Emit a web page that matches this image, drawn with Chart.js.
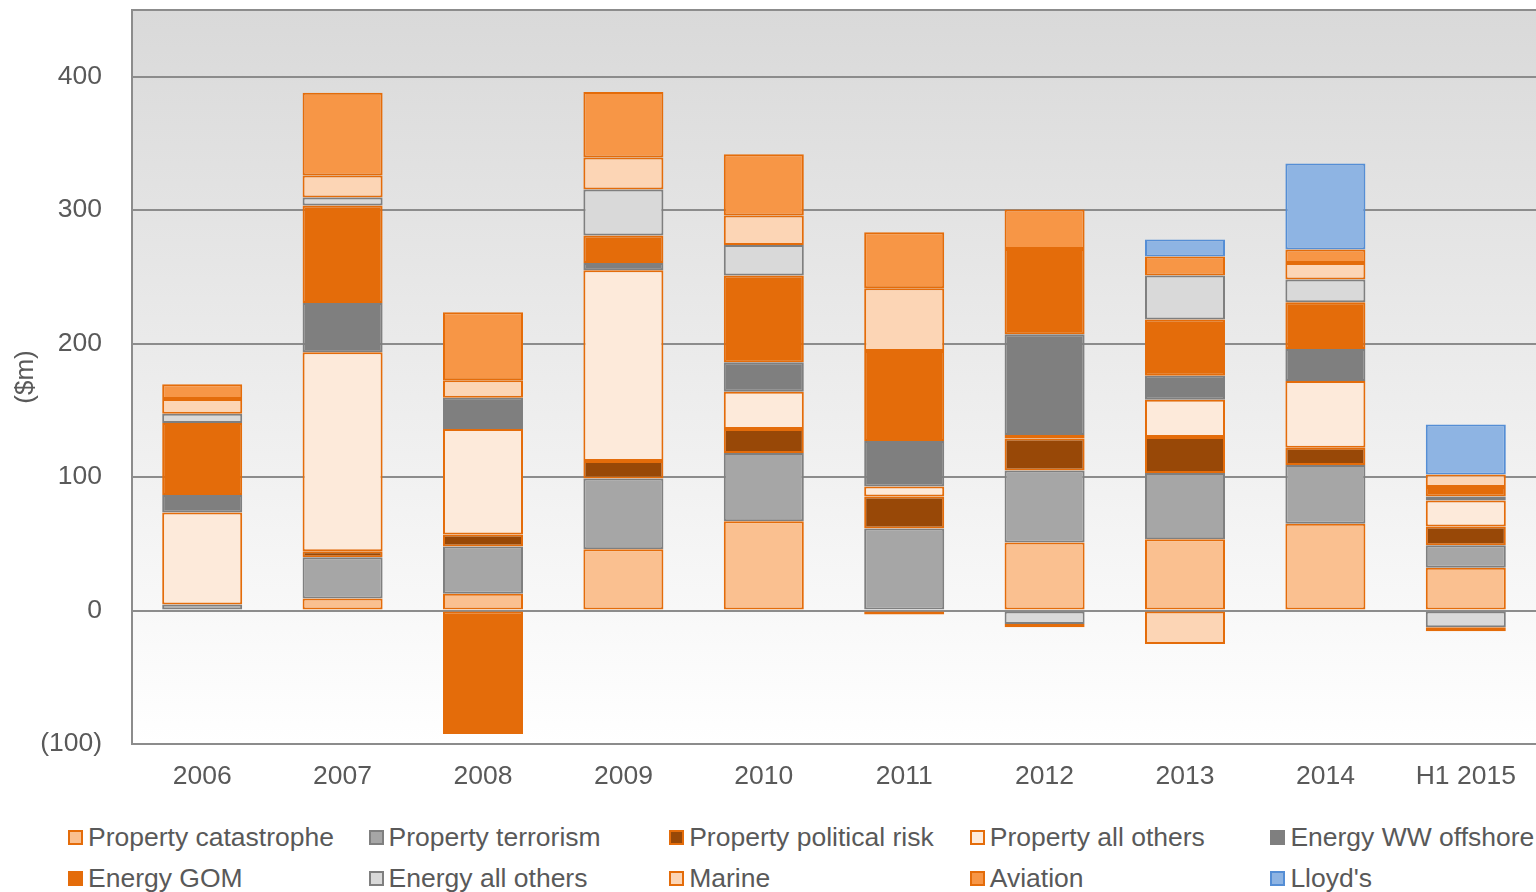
<!DOCTYPE html>
<html>
<head>
<meta charset="utf-8">
<script src="https://cdn.jsdelivr.net/npm/chart.js@4/dist/chart.umd.min.js"></script>
<style>
  html, body { margin: 0; padding: 0; background: #fff; overflow: hidden; }
  #wrap { position: relative; width: 1536px; height: 892px; }
  #chart-box { position: absolute; left: 0; top: 0; width: 1536px; height: 800px; }
  #legend { position: absolute; left: 68px; top: 823px; width: 1500px;
    display: grid; grid-template-columns: repeat(5, 300.6px); row-gap: 13px;
    font-family: "Liberation Sans", Arial, sans-serif; font-size: 26.5px; color: #595959; }
  .item { display: flex; align-items: center; height: 28px; white-space: nowrap; }
  .box { width: 11px; height: 11px; border: 2px solid; margin-right: 5px; flex: none; }
</style>
</head>
<body>
<div id="wrap">
  <div id="chart-box"><canvas id="chart"></canvas></div>
  <div id="legend"></div>
</div>
<script>
const years = ['2006', '2007', '2008', '2009', '2010', '2011', '2012', '2013', '2014', 'H1 2015'];

// $m by year (null = no segment)
const propertyCat = [null, 9, 12.5, 46, 67, -3, 51, 53.5, 65, 32];
const propertyTerrorism = [4.5, 31, 35.5, 53, 51, 61.5, 54, 49.5, 44, 17];
const propertyPolitical = [null, 4.5, 9, 13, 18, 24, 24, 27, 13, 14];
const propertyOthers = [69, 149, 79, 143, 28, 7.5, 2.5, 28, 50, 19.5];
const energyWW = [13, 37, 23.5, 5.5, 22, 34, 75.5, 18, 24, 3];
const energyGOM = [54, 73, -92.5, 20.5, 65, 67.5, 64, 42, 35, 7];
const energyOthers = [7, 6, null, 34.5, 23, null, -10, 33, 17, -12.5];
const marine = [11, 16.5, 13, 24, 22, 47, -2.5, -25, 12.5, 9.5];
const aviation = [11, 62, 51, 49, 46, 42, 29.5, 14.3, 10, -3];
const lloyds = [null, null, null, null, null, null, null, 12.8, 64.5, 37.5];

const yTicks = [-100, 0, 100, 200, 300, 400, 450];

const series = [
  { label: 'Property catastrophe', data: propertyCat, fill: '#FAC090', line: '#E46C0A' },
  { label: 'Property terrorism', data: propertyTerrorism, fill: '#A6A6A6', line: '#7F7F7F' },
  { label: 'Property political risk', data: propertyPolitical, fill: '#984807', line: '#E46C0A' },
  { label: 'Property all others', data: propertyOthers, fill: '#FDEADA', line: '#E46C0A' },
  { label: 'Energy WW offshore', data: energyWW, fill: '#7F7F7F', line: '#7F7F7F' },
  { label: 'Energy GOM', data: energyGOM, fill: '#E46C0A', line: '#E46C0A' },
  { label: 'Energy all others', data: energyOthers, fill: '#D9D9D9', line: '#7F7F7F' },
  { label: 'Marine', data: marine, fill: '#FCD5B5', line: '#E46C0A' },
  { label: 'Aviation', data: aviation, fill: '#F79646', line: '#E46C0A' },
  { label: "Lloyd's", data: lloyds, fill: '#8EB4E3', line: '#558ED5' },
];

const textColor = '#595959';
const gridColor = '#8C8C8C';

// grey-to-white fill behind the plot
const plotBackground = {
  id: 'plotBackground',
  beforeDraw(chart) {
    const { ctx, chartArea } = chart;
    const g = ctx.createLinearGradient(0, chartArea.top, 0, chartArea.bottom);
    g.addColorStop(0, '#D9D9D9');
    g.addColorStop(1, '#FFFFFF');
    ctx.save();
    ctx.fillStyle = g;
    ctx.fillRect(chartArea.left, chartArea.top, chartArea.right - chartArea.left, chartArea.bottom - chartArea.top);
    ctx.restore();
  }
};

new Chart(document.getElementById('chart'), {
  type: 'bar',
  data: {
    labels: years,
    datasets: series.map(s => ({
      label: s.label,
      data: s.data,
      backgroundColor: s.fill,
      borderColor: s.line,
      borderWidth: 2,
      borderSkipped: false,
      categoryPercentage: 1,
      barPercentage: 0.57,
    }))
  },
  options: {
    responsive: true,
    maintainAspectRatio: false,
    animation: false,
    layout: { padding: { top: 10, right: 0 } },
    plugins: { legend: { display: false }, tooltip: { enabled: false } },
    scales: {
      x: {
        stacked: true,
        grid: { display: false },
        border: { display: true, color: gridColor, width: 2 },
        ticks: { color: textColor, padding: 9, font: { family: 'Liberation Sans', size: 26.5 } },
        afterFit(scale) { scale.height = 56; }
      },
      y: {
        stacked: true,
        min: -100,
        max: 450,
        afterBuildTicks(scale) { scale.ticks = yTicks.map(v => ({ value: v })); },
        grid: { color: gridColor, lineWidth: 2, drawTicks: false },
        border: { display: true, color: gridColor, width: 2 },
        ticks: {
          color: textColor,
          padding: 30,
          font: { family: 'Liberation Sans', size: 26.5 },
          callback: v => v === 450 ? '' : (v < 0 ? '(' + Math.abs(v) + ')' : v)
        },
        title: { display: true, text: '($m)', color: textColor, padding: { top: 10, bottom: 4 },
          font: { family: 'Liberation Sans', size: 26 } },
        afterFit(scale) {
          scale.width = 132;
          scale.paddingTop = 0;
          scale.paddingBottom = 0;
        }
      }
    }
  },
  plugins: [plotBackground]
});

// legend, 5 columns
const legend = document.getElementById('legend');
series.forEach(s => {
  const item = document.createElement('div');
  item.className = 'item';
  const box = document.createElement('span');
  box.className = 'box';
  box.style.background = s.fill;
  box.style.borderColor = s.line;
  item.appendChild(box);
  item.appendChild(document.createTextNode(s.label));
  legend.appendChild(item);
});
</script>
</body>
</html>
